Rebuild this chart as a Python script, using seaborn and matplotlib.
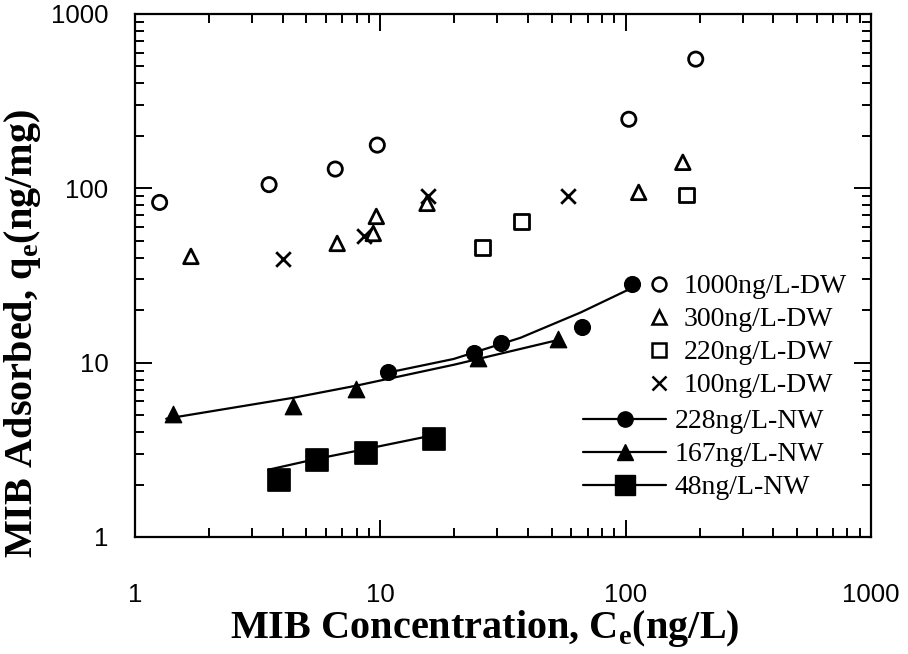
import matplotlib
matplotlib.use("Agg")
import matplotlib.pyplot as plt
from matplotlib.lines import Line2D
from matplotlib.ticker import FuncFormatter, LogLocator, NullFormatter
import seaborn as sns
import pandas as pd

sns.set_theme(style="ticks")
plt.rcParams['font.family'] = ['Liberation Sans', 'DejaVu Sans']
plt.rcParams['mathtext.fontset'] = 'custom'
plt.rcParams['mathtext.rm'] = 'Liberation Serif'
plt.rcParams['mathtext.bf'] = 'Liberation Serif:bold'

# ---- data ----
dw1000_x = [1.26, 3.52, 6.55, 9.72, 103, 193]
dw1000_y = [83, 105, 129, 177, 249, 551]

dw300_x = [1.69, 6.67, 9.36, 9.63, 15.5, 113, 171]
dw300_y = [40.7, 48.3, 55.1, 69.0, 82.0, 94.8, 141]

dw220_x = [26.1, 37.6, 177]
dw220_y = [45.8, 64.6, 91.2]

dw100_x = [4.02, 8.60, 15.7, 58.0]
dw100_y = [39.1, 53.0, 90.0, 90.0]

nw228_x = [10.7, 24.2, 30.9, 66.1, 106]
nw228_y = [8.88, 11.3, 13.0, 16.1, 28.4]

nw167_x = [1.43, 4.42, 7.98, 25.1, 52.8]
nw167_y = [5.09, 5.66, 7.09, 10.7, 13.7]

nw48_x = [3.87, 5.53, 8.77, 16.5]
nw48_y = [2.13, 2.77, 3.04, 3.66]

# fitted isotherm lines
fit228_x = [10.7, 19.9, 37.3, 65.5, 103]
fit228_y = [8.76, 10.5, 13.9, 19.4, 26.3]

fit167_x = [1.34, 4.42, 7.98, 20.0, 54.3]
fit167_y = [4.77, 6.29, 7.38, 9.74, 13.6]

fit48_x = [3.49, 5.53, 8.77, 17.6]
fit48_y = [2.43, 2.81, 3.20, 3.91]

dw_labels = ["1000ng/L-DW", "300ng/L-DW", "220ng/L-DW", "100ng/L-DW"]
nw_labels = ["228ng/L-NW", "167ng/L-NW", "48ng/L-NW"]
tick_values = [1, 10, 100, 1000]

fig = plt.figure(figsize=(9.08, 6.54), dpi=100)
ax = fig.add_axes([135/908, 1-537/654, (871-135)/908, (537-14)/654])

blk = 'black'
# open DW markers
sns.scatterplot(x=dw1000_x, y=dw1000_y, marker='o', s=105, facecolor='none',
                edgecolor=blk, linewidth=2.0, ax=ax, zorder=3)
sns.scatterplot(x=dw300_x, y=dw300_y, marker='^', s=110, facecolor='none',
                edgecolor=blk, linewidth=2.0, ax=ax, zorder=3)
sns.scatterplot(x=dw220_x, y=dw220_y, marker='s', s=105, facecolor='none',
                edgecolor=blk, linewidth=2.0, ax=ax, zorder=3)
sns.scatterplot(x=dw100_x, y=dw100_y, marker='x', s=110, color=blk,
                linewidth=2.0, ax=ax, zorder=3)

# fitted lines
for fx, fy in [(fit228_x, fit228_y), (fit167_x, fit167_y), (fit48_x, fit48_y)]:
    sns.lineplot(x=fx, y=fy, color=blk, linewidth=1.6, ax=ax, sort=False,
                 estimator=None, zorder=2)

# filled NW markers
sns.scatterplot(x=nw228_x, y=nw228_y, marker='o', s=130, color=blk,
                edgecolor=blk, ax=ax, zorder=4)
sns.scatterplot(x=nw167_x, y=nw167_y, marker='^', s=140, color=blk,
                edgecolor=blk, ax=ax, zorder=4)
sns.scatterplot(x=nw48_x, y=nw48_y, marker='s', s=240, color=blk,
                edgecolor=blk, ax=ax, zorder=4)

ax.set_xscale('log')
ax.set_yscale('log')
ax.set_xlim(1, 1000)
ax.set_ylim(1, 1000)
ax.set_xticks(tick_values)
ax.set_yticks(tick_values)
fmt = FuncFormatter(lambda v, p: f"{v:g}")
ax.xaxis.set_major_formatter(fmt)
ax.yaxis.set_major_formatter(fmt)
ax.xaxis.set_minor_locator(LogLocator(base=10, subs=range(2, 10)))
ax.yaxis.set_minor_locator(LogLocator(base=10, subs=range(2, 10)))
ax.xaxis.set_minor_formatter(NullFormatter())
ax.yaxis.set_minor_formatter(NullFormatter())

ax.tick_params(which='both', direction='in', top=True, right=True,
               color=blk, width=1.4)
ax.tick_params(which='major', length=12)
ax.tick_params(which='minor', length=6.5)
ax.tick_params(axis='x', which='major', pad=33, labelsize=18.5, labelcolor=blk)
ax.tick_params(axis='y', which='major', pad=19, labelsize=18.5, labelcolor=blk)
for sp in ax.spines.values():
    sp.set_visible(True)
    sp.set_color(blk)
    sp.set_linewidth(1.6)

ax.set_xlabel(r"MIB Concentration, C$_\mathbf{e}$(ng/L)", family='Liberation Serif',
              fontweight='bold', fontsize=29, color=blk)
ax.set_ylabel(r"MIB Adsorbed, q$_\mathbf{e}$(ng/mg)", family='Liberation Serif',
              fontweight='bold', fontsize=29, color=blk)
ax.xaxis.set_label_coords((485-135)/736, (537-608)/523)
ax.yaxis.set_label_coords((43-135)/736, (537-333)/523)

# legends
dw_handles = [
    Line2D([], [], linestyle='none', marker='o', markersize=10, markerfacecolor='none',
           markeredgecolor=blk, markeredgewidth=1.8),
    Line2D([], [], linestyle='none', marker='^', markersize=10, markerfacecolor='none',
           markeredgecolor=blk, markeredgewidth=1.8),
    Line2D([], [], linestyle='none', marker='s', markersize=10, markerfacecolor='none',
           markeredgecolor=blk, markeredgewidth=1.8),
    Line2D([], [], linestyle='none', marker='x', markersize=10, color=blk,
           markeredgewidth=1.8),
]
leg1 = ax.legend(dw_handles, dw_labels, loc='upper left',
                 bbox_to_anchor=((645-135)/736, (537-274)/523), frameon=False,
                 prop={'family': 'Liberation Serif', 'size': 20},
                 handlelength=1.0, handletextpad=0.4, labelspacing=0.27,
                 borderpad=0, borderaxespad=0)
ax.add_artist(leg1)
nw_handles = [
    Line2D([], [], color=blk, linewidth=1.6, marker='o', markersize=11),
    Line2D([], [], color=blk, linewidth=1.6, marker='^', markersize=11),
    Line2D([], [], color=blk, linewidth=1.6, marker='s', markersize=15),
]
leg2 = ax.legend(nw_handles, nw_labels, loc='upper left',
                 bbox_to_anchor=((583-135)/736, (537-409)/523), frameon=False,
                 prop={'family': 'Liberation Serif', 'size': 20},
                 handlelength=3.0, handletextpad=0.3, labelspacing=0.27,
                 borderpad=0, borderaxespad=0)
for t in list(leg1.get_texts()) + list(leg2.get_texts()):
    t.set_color(blk)

fig.savefig("out.png", dpi=100, facecolor='white')
